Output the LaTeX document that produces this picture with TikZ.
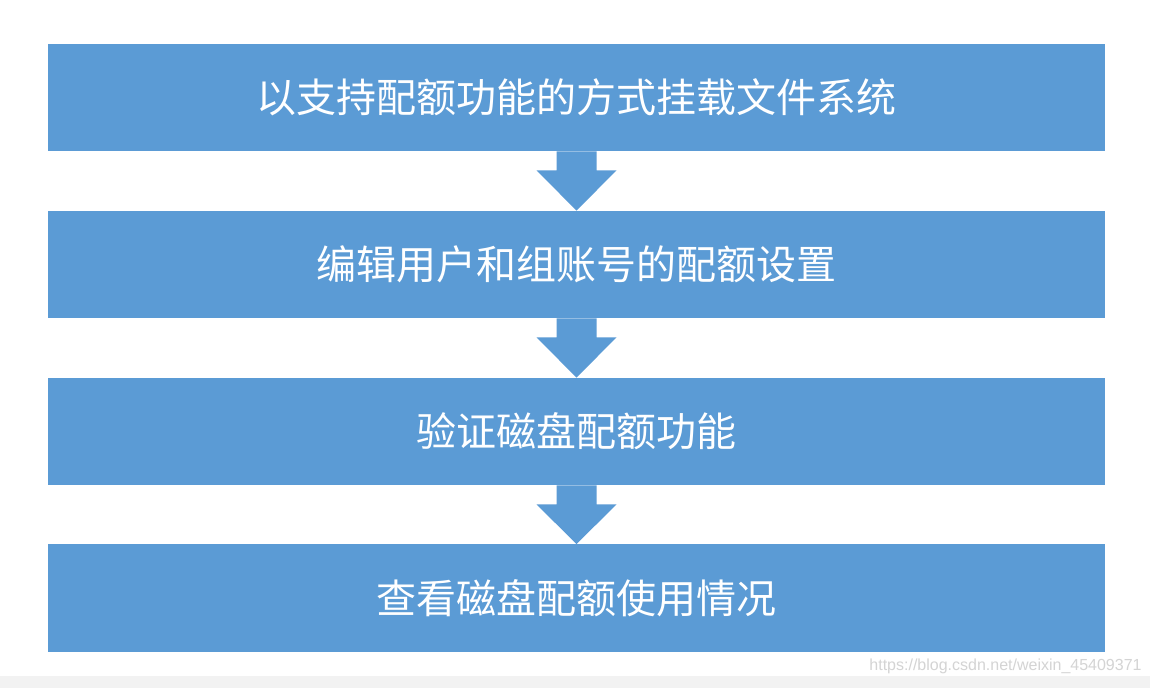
\documentclass[tikz,border=0pt]{standalone}
\usepackage{fontspec}
\newfontfamily\cjk{Noto Sans CJK SC}
\setsansfont{Liberation Sans}
\usetikzlibrary{calc}
\definecolor{boxblue}{HTML}{5B9BD5}
\definecolor{stripgray}{HTML}{F2F2F2}
\definecolor{wmgray}{HTML}{D4D4D4}
\tikzset{
  stepbox/.style={fill=boxblue, draw=none, minimum width=528.5pt, minimum height=53.5pt, inner sep=0pt, text=white, font=\cjk\fontsize{20pt}{23pt}\selectfont},
  arrowfill/.style={fill=boxblue, draw=none}
}
\newcommand{\downarrowshape}[2]{%
  \fill[arrowfill] ($(#1.south)+(-20,0)$) -- ($(#1.south)+(20,0)$) -- ($(#1.south)+(20,19)$) -- ($(#1.south)+(40,19)$) -- (#2.north) -- ($(#1.south)+(-40,19)$) -- ($(#1.south)+(-20,19)$) -- cycle;}
\begin{document}
\begin{tikzpicture}[x=0.5pt, y=-0.5pt]
\useasboundingbox (0,0) rectangle (1150,688);
\fill[white] (0,0) rectangle (1150,688);
\fill[stripgray] (0,676) rectangle (1150,688);
\node[stepbox] (b1) at (576.5,97.5) {以支持配额功能的方式挂载文件系统};
\node[stepbox] (b2) at (576.5,264.5) {编辑用户和组账号的配额设置};
\node[stepbox] (b3) at (576.5,431.5) {验证磁盘配额功能};
\node[stepbox] (b4) at (576.5,598) {查看磁盘配额使用情况};
\downarrowshape{b1}{b2}
\downarrowshape{b2}{b3}
\downarrowshape{b3}{b4}
\node[anchor=south east, inner sep=0pt, text=wmgray, font=\sffamily\fontsize{8pt}{9pt}\selectfont] (wm) at (1142,674) {https://blog.csdn.net/weixin\_45409371};
\end{tikzpicture}
\end{document}
